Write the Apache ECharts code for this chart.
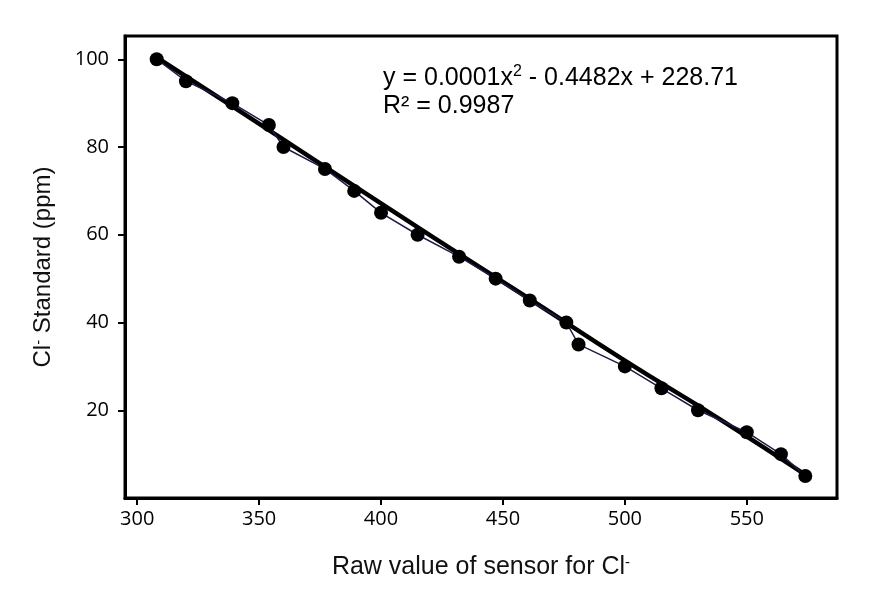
<!DOCTYPE html>
<html>
<head>
<meta charset="utf-8">
<script src="https://cdn.jsdelivr.net/npm/echarts@6/dist/echarts.min.js"></script>
<style>
html, body { margin: 0; padding: 0; background: #fff; }
#chart { width: 880px; height: 597px; }
</style>
</head>
<body>
<div id="chart"></div>
<script>
// raw sensor value vs Cl- standard (ppm)
var rawValues = [308, 320, 339, 354, 360, 377, 389, 400, 415, 432, 447, 461, 476, 481, 500, 515, 530, 550, 564, 574];
var standards = [100, 95, 90, 85, 80, 75, 70, 65, 60, 55, 50, 45, 40, 35, 30, 25, 20, 15, 10, 5];
// polynomial trendline
var trendX = [308, 340, 380, 420, 460, 500, 540, 574];
var trendY = [100.4, 88.9, 74.4, 59.9, 45.7, 31.3, 17.6, 5.3];
var xTicks = [300, 350, 400, 450, 500, 550];
var yTicks = [20, 40, 60, 80, 100];

var supStyle = { fontSize: 15, verticalAlign: 'top', fontFamily: 'Liberation Sans', color: '#111' };

var chart = echarts.init(document.getElementById('chart'));
chart.setOption({
    animation: false,
    grid: {
        left: 125,
        right: 43,
        top: 36,
        bottom: 99,
        show: true,
        borderColor: '#000',
        borderWidth: 3
    },
    xAxis: {
        type: 'value',
        min: 295,
        max: 587,
        name: 'Raw value of sensor for Cl{sup|-}',
        nameLocation: 'middle',
        nameGap: 57,
        nameTextStyle: {
            fontFamily: 'Liberation Sans',
            fontSize: 25,
            color: '#111',
            rich: { sup: supStyle }
        },
        axisLine: { lineStyle: { color: '#000', width: 3 } },
        axisTick: { length: 7, customValues: xTicks, lineStyle: { color: '#000', width: 2 } },
        axisLabel: { customValues: xTicks, fontFamily: 'Open Sans', fontSize: 20, color: '#000', margin: 11 },
        splitLine: { show: false }
    },
    yAxis: {
        type: 'value',
        min: 0,
        max: 105.3,
        name: 'Cl{sup|-} Standard (ppm)',
        nameLocation: 'middle',
        nameGap: 70,
        nameTextStyle: {
            fontFamily: 'Liberation Sans',
            fontSize: 24,
            color: '#111',
            rich: { sup: supStyle }
        },
        axisLine: { lineStyle: { color: '#000', width: 3 } },
        axisTick: { length: 7, customValues: yTicks, lineStyle: { color: '#000', width: 2 } },
        axisLabel: { customValues: yTicks, fontFamily: 'Open Sans', fontSize: 20, color: '#000', margin: 16 },
        splitLine: { show: false }
    },
    graphic: [{
        type: 'text',
        left: 383,
        top: 64,
        style: {
            text: 'y = 0.0001x{sup|2} - 0.4482x + 228.71\nR² = 0.9987',
            font: '25px "Liberation Sans"',
            fill: '#000',
            lineHeight: 28,
            rich: { sup: { fontSize: 16, verticalAlign: 'top', fontFamily: 'Liberation Sans', fill: '#000' } }
        }
    }],
    series: [
        {
            name: 'trend',
            type: 'line',
            data: trendX.map(function (x, i) { return [x, trendY[i]] }),
            smooth: true,
            showSymbol: false,
            lineStyle: { color: '#000', width: 4.5 },
            z: 2
        },
        {
            name: 'data',
            type: 'line',
            data: rawValues.map(function (x, i) { return [x, standards[i]] }),
            symbol: 'circle',
            symbolSize: 14,
            itemStyle: { color: '#000' },
            lineStyle: { color: '#1c1c4a', width: 1.5 },
            z: 3
        }
    ]
});
</script>
</body>
</html>
